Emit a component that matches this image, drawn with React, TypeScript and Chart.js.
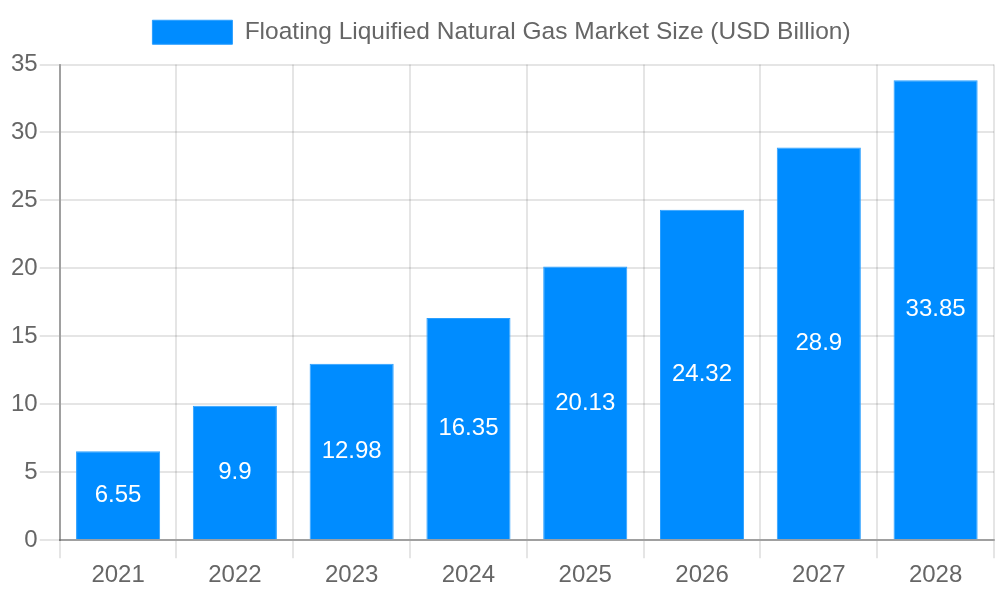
import React, { useEffect, useRef } from "react";
import { Chart, registerables } from "chart.js";

Chart.register(...registerables);

const years = ["2021", "2022", "2023", "2024", "2025", "2026", "2027", "2028"];
const marketSize = [6.55, 9.9, 12.98, 16.35, 20.13, 24.32, 28.9, 33.85];
const seriesLabel = "Floating Liquified Natural Gas Market Size (USD Billion)";

const FONT = "'Liberation Sans', Arial, sans-serif";

const valueLabels = {
  id: "valueLabels",
  afterDatasetsDraw(chart: any) {
    const ctx = chart.ctx;
    const meta = chart.getDatasetMeta(0);
    const data = chart.data.datasets[0].data as number[];
    ctx.save();
    ctx.fillStyle = "#ffffff";
    ctx.font = `24px ${FONT}`;
    ctx.textAlign = "center";
    ctx.textBaseline = "middle";
    meta.data.forEach((bar: any, i: number) => {
      const { x, y, base } = bar.getProps(["x", "y", "base"], true);
      ctx.fillText(String(data[i]), x, (y + base) / 2);
    });
    ctx.restore();
  },
};

const legendGap = {
  id: "legendGap",
  beforeInit(chart: any) {
    const legend = chart.legend;
    if (!legend) return;
    const origFit = legend.fit;
    legend.fit = function () {
      origFit.call(this);
      this.height += 10;
    };
  },
};

export default function App() {
  const ref = useRef<HTMLCanvasElement | null>(null);
  useEffect(() => {
    if (!ref.current) return;
    const chart = new Chart(ref.current, {
      type: "bar",
      data: {
        labels: years,
        datasets: [
          {
            label: seriesLabel,
            data: marketSize,
            backgroundColor: "#008cff",
            borderColor: "#2a9fff",
            borderWidth: 1,
          },
        ],
      },
      options: {
        animation: false,
        responsive: false,
        layout: { padding: { left: 9, right: 6, top: 10, bottom: 7 } },
        plugins: {
          legend: {
            labels: {
              boxWidth: 80,
              boxHeight: 24,
              color: "#666666",
              font: { family: FONT, size: 24.5 },
            },
          },
          tooltip: { enabled: false },
        },
        scales: {
          x: {
            grid: { color: "rgba(0,0,0,0.1)", lineWidth: 2, tickLength: 18 },
            border: { color: "rgba(0,0,0,0.3)", width: 2 },
            ticks: { color: "#666666", font: { family: FONT, size: 24 } },
          },
          y: {
            min: 0,
            max: 35,
            grid: { color: "rgba(0,0,0,0.1)", lineWidth: 2, tickLength: 20 },
            border: { color: "rgba(0,0,0,0.3)", width: 2 },
            ticks: { stepSize: 5, color: "#666666", font: { family: FONT, size: 24 }, padding: 2 },
          },
        },
      },
      plugins: [legendGap, valueLabels],
    });
    return () => chart.destroy();
  }, []);
  return (
    <div style={{ position: "absolute", left: 0, top: 0, width: 1000, height: 600 }}>
      <canvas ref={ref} width={1000} height={600} />
    </div>
  );
}
